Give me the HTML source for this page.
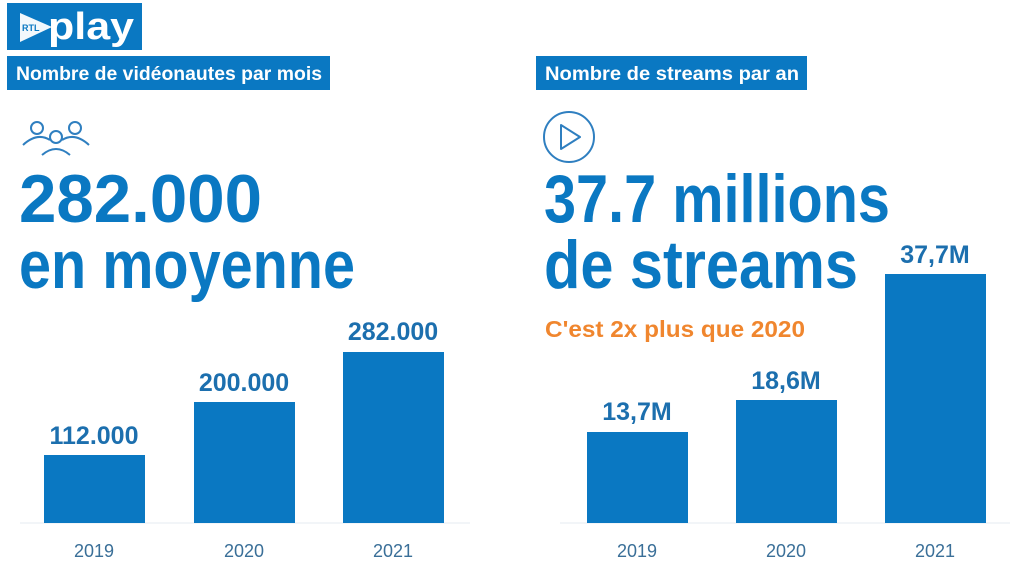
<!DOCTYPE html>
<html><head><meta charset="utf-8"><style>
html,body{margin:0;padding:0;background:#fff;width:1024px;height:566px;overflow:hidden}
svg{display:block}
text{font-family:"Liberation Sans",sans-serif}
</style></head><body>
<svg width="1024" height="566" viewBox="0 0 1024 566" xmlns="http://www.w3.org/2000/svg">
<rect width="1024" height="566" fill="#fff"/>
<!-- logo -->
<rect x="7" y="3" width="135" height="47" fill="#0a78c2"/>
<path d="M20 13 L52 27 L20 42 Z" fill="#fff" opacity="0.95"/>
<text x="22" y="31" font-size="9" font-weight="bold" fill="#0a78c2">RTL</text>
<text x="48" y="39" font-size="38" font-weight="bold" fill="#fff" textLength="86" lengthAdjust="spacingAndGlyphs">play</text>
<!-- titles -->
<rect x="7" y="56" width="323" height="34" fill="#0a78c2"/>
<text x="16" y="80" font-size="19" font-weight="bold" fill="#fff" textLength="306" lengthAdjust="spacingAndGlyphs">Nombre de vidéonautes par mois</text>
<rect x="536" y="56" width="271" height="34" fill="#0a78c2"/>
<text x="545" y="80" font-size="19" font-weight="bold" fill="#fff" textLength="254" lengthAdjust="spacingAndGlyphs">Nombre de streams par an</text>
<!-- people icon -->
<g fill="none" stroke="#2f7fc0" stroke-width="2">
<circle cx="37" cy="128" r="6"/><circle cx="75" cy="128" r="6"/><circle cx="56" cy="137" r="6"/>
<path d="M23 145 Q37 132 50 140"/><path d="M62 140 Q75 132 89 145"/>
<path d="M42 155 Q56 143 70 155"/>
</g>
<!-- play icon -->
<circle cx="569" cy="137" r="25" fill="none" stroke="#2f7fc0" stroke-width="2"/>
<path d="M561 125 L561 149 L580 137 Z" fill="none" stroke="#2f7fc0" stroke-width="2" stroke-linejoin="round"/>
<!-- big texts -->
<g fill="#0a78c2" font-weight="bold" font-size="68">
<text x="19" y="222" textLength="243" lengthAdjust="spacingAndGlyphs">282.000</text>
<text x="19" y="288" textLength="336" lengthAdjust="spacingAndGlyphs">en moyenne</text>
<text x="544" y="222" textLength="346" lengthAdjust="spacingAndGlyphs">37.7 millions</text>
<text x="544" y="288" textLength="314" lengthAdjust="spacingAndGlyphs">de streams</text>
</g>
<text x="545" y="337" font-size="23" font-weight="bold" fill="#f0862e" textLength="260" lengthAdjust="spacingAndGlyphs">C'est 2x plus que 2020</text>
<!-- baselines -->
<line x1="20" y1="523" x2="470" y2="523" stroke="#eef2f5" stroke-width="1.5"/>
<line x1="560" y1="523" x2="1010" y2="523" stroke="#eef2f5" stroke-width="1.5"/>
<!-- bars -->
<g fill="#0a78c2">
<rect x="44" y="455" width="101" height="68"/>
<rect x="194" y="402" width="101" height="121"/>
<rect x="343" y="352" width="101" height="171"/>
<rect x="587" y="432" width="101" height="91"/>
<rect x="736" y="400" width="101" height="123"/>
<rect x="885" y="274" width="101" height="249"/>
</g>
<g fill="#1c6fae" font-weight="bold" font-size="25" text-anchor="middle">
<text x="94" y="444">112.000</text>
<text x="244" y="391">200.000</text>
<text x="393" y="340">282.000</text>
<text x="637" y="420">13,7M</text>
<text x="786" y="389">18,6M</text>
<text x="935" y="263">37,7M</text>
</g>
<g fill="#3a6f98" font-size="18" text-anchor="middle">
<text x="94" y="557">2019</text>
<text x="244" y="557">2020</text>
<text x="393" y="557">2021</text>
<text x="637" y="557">2019</text>
<text x="786" y="557">2020</text>
<text x="935" y="557">2021</text>
</g>
</svg>
</body></html>
